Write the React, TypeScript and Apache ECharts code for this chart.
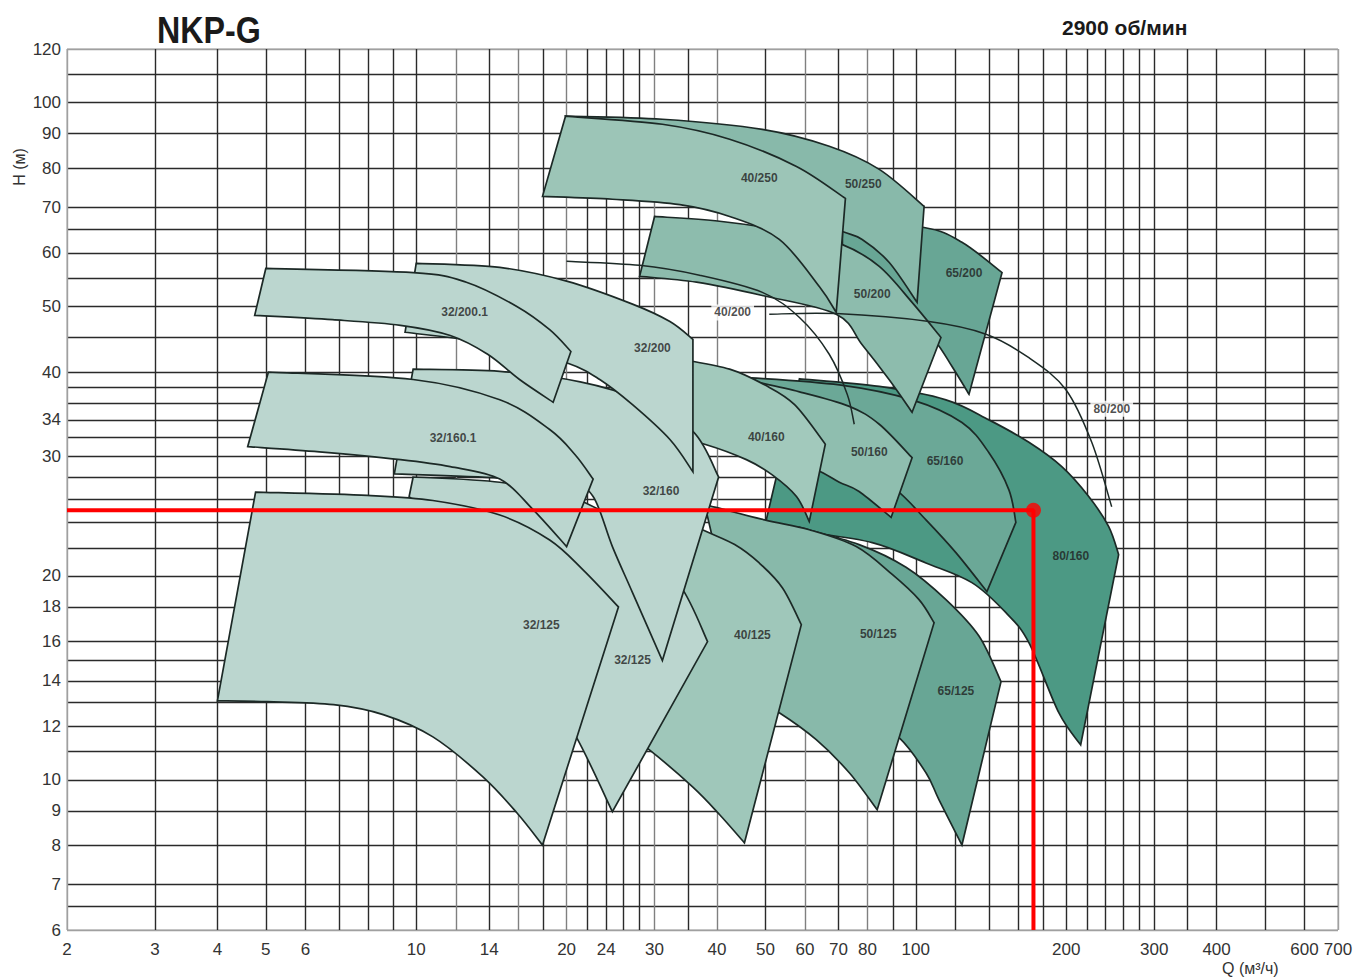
import React, { useEffect, useRef } from "react";
import * as echarts from "echarts";

// ---------- axes ----------
const Q_MIN = 2;
const Q_MAX = 700;
const H_MIN = 6;
const H_MAX = 120;
const qGridLines = [2, 3, 4, 5, 6, 7, 8, 9, 10, 12, 14, 16, 18, 20, 22, 24, 26, 28, 30, 35, 40, 50, 60, 70, 80, 90, 100, 120, 140, 160, 180, 200, 220, 240, 260, 280, 300, 350, 400, 500, 600, 700];
const qFaintLines = [12, 16, 20, 30, 40, 60, 80];
const qTickLabels = [2, 3, 4, 5, 6, 10, 14, 20, 24, 30, 40, 50, 60, 70, 80, 100, 200, 300, 400, 600, 700];
const hGridLines = [6, 6.5, 7, 8, 9, 10, 11, 12, 13, 14, 15, 16, 18, 20, 22, 24, 26, 28, 30, 32, 34, 36, 38, 40, 45, 50, 55, 60, 65, 70, 80, 90, 100, 110, 120];
const hTickLabels = [6, 7, 8, 9, 10, 12, 14, 16, 18, 20, 30, 34, 40, 50, 60, 70, 80, 90, 100, 120];

// ---------- pump fields: [Q m3/h, H m] ----------
const p32_200_1_top = [[5.0, 56.9], [9.86, 56.1], [12.6, 54.3], [15.9, 50.0], [18.5, 46.2], [20.4, 42.9]];
const p32_200_1_bottom = [[18.8, 36.1], [16.1, 39.0], [13.9, 42.5], [11.7, 45.3], [9.3, 46.9], [6.8, 47.8], [4.75, 48.5]];
const p32_200_top = [[10.0, 57.9], [14.7, 57.1], [20.0, 54.5], [27.1, 50.4], [32.2, 47.5], [35.8, 44.7]];
const p32_200_bottom = [[35.8, 28.5], [32.2, 31.8], [27.1, 35.8], [23.3, 39.0], [20.0, 41.3], [14.7, 43.9], [9.5, 45.8]];
const p32_160_1_top = [[5.06, 40.0], [9.86, 39.0], [14.7, 36.4], [18.5, 32.9], [20.8, 30.2], [22.6, 27.8]];
const p32_160_1_bottom = [[20.0, 22.1], [17.1, 25.1], [14.7, 27.8], [11.7, 29.0], [9.3, 29.7], [6.4, 30.5], [4.6, 31.05]];
const p32_160_top = [[9.86, 40.4], [14.7, 40.1], [21.3, 38.7], [28.0, 36.4], [35.8, 32.7], [40.3, 28.0]];
const p32_160_bottom = [[31.1, 15.0], [27.1, 18.9], [24.7, 22.1], [22.6, 26.2], [20.3, 27.3], [14.7, 27.9], [9.04, 28.3]];
const p32_125b_top = [[9.86, 28.0], [14.7, 27.5], [20.3, 26.2], [26.8, 23.4], [33.7, 19.4], [38.3, 16.0]];
const p32_125b_bottom = [[24.7, 8.97], [21.0, 11.5], [17.7, 14.05], [13.4, 19.1], [10.7, 24.2], [9.68, 26.2]];
const p32_125a_top = [[4.77, 26.6], [7.98, 26.3], [10.8, 25.85], [14.7, 24.6], [18.5, 22.6], [21.6, 20.4], [25.4, 18.0]];
const p32_125a_bottom = [[17.9, 8.01], [15.9, 8.94], [13.6, 10.1], [10.8, 11.57], [8.59, 12.48], [6.83, 12.91], [5.04, 13.04], [4.0, 13.08]];
const p40_125_top = [[28.0, 25.8], [37.4, 23.4], [43.4, 22.25], [48.6, 20.9], [54.1, 19.2], [59.0, 16.95]];
const p40_125_bottom = [[45.4, 8.07], [40.5, 8.88], [35.75, 9.76], [29.3, 11.07], [26.15, 11.73]];
const p50_125_top = [[37.8, 25.5], [49.8, 24.2], [61.2, 23.4], [76.0, 22.1], [89.7, 20.1], [101.5, 18.45], [108.8, 17.06]];
const p50_125_bottom = [[83.7, 9.03], [73.6, 10.24], [63.2, 11.46], [53.3, 12.56], [46.45, 13.26]];
const p65_125_top = [[58.5, 23.6], [77.0, 22.25], [95.6, 20.6], [114.9, 18.45], [133.8, 16.3], [148.1, 13.96]];
const p65_125_bottom = [[123.7, 8.01], [111.3, 9.34], [104.8, 10.24], [92.6, 11.54], [77.0, 12.7]];
const p80_160_top = [[58.5, 39.1], [84.5, 38.1], [114.9, 36.4], [140.1, 34.0], [168.4, 31.5], [196.0, 29.0], [221.9, 26.2], [243.3, 23.65], [254.7, 21.5]];
const p80_160_bottom = [[213.8, 11.26], [193.3, 12.56], [168.4, 15.94], [151.5, 17.65], [129.5, 19.55], [104.8, 20.9], [81.8, 22.4], [60.4, 23.2], [49.8, 23.6]];
const p65_160_top = [[45.4, 39.3], [70.3, 38.3], [98.3, 36.4], [123.7, 33.7], [140.1, 30.4], [153.6, 26.8], [158.6, 24.0]];
const p65_160_bottom = [[138.8, 18.96], [120.3, 21.65], [104.8, 24.2], [91.3, 26.8], [77.0, 28.7], [58.5, 30.7]];
const p50_160_top = [[43.4, 39.3], [58.5, 37.4], [73.6, 35.6], [84.5, 33.5], [98.3, 29.9]];
const p50_160_bottom = [[89.25, 24.4], [77.0, 26.65], [70.3, 27.5], [63.2, 28.7], [53.3, 29.9]];
const p40_160_top = [[34.5, 41.7], [42.4, 40.4], [49.8, 38.3], [57.2, 35.8], [65.9, 31.3]];
const p40_160_bottom = [[61.2, 24.06], [57.7, 26.2], [51.6, 28.2], [45.8, 29.7], [37.8, 31.3], [33.7, 31.8]];
const p40_250_top = [[19.9, 95.5], [31.1, 92.9], [42.4, 88.3], [57.7, 80.5], [72.3, 72.2]];
const p40_250_bottom = [[69.3, 49.0], [64.1, 53.5], [53.3, 62.8], [42.4, 67.9], [33.7, 70.7], [24.7, 72.0], [17.9, 72.7]];
const p50_250_top = [[19.9, 95.5], [31.1, 94.5], [49.3, 91.3], [67.1, 86.2], [84.5, 79.7], [103.9, 70.3]];
const p50_250_bottom = [[100.6, 50.7], [88.4, 58.1], [78.1, 62.8], [71.3, 64.5], [58.5, 68.4], [36.9, 72.0], [23.3, 74.5]];
const p65_200_top = [[71.3, 66.8], [103.9, 65.4], [123.7, 62.2], [148.8, 56.1]];
const p65_200_bottom = [[127.8, 37.1], [118.1, 40.8], [108.8, 44.7], [92.6, 51.2], [77.0, 57.7], [71.3, 61.7]];
const p50_200_top = [[30.0, 67.9], [40.5, 66.8], [55.9, 64.5], [71.3, 61.7], [84.5, 57.3], [98.3, 50.7], [112.3, 45.0]];
const p50_200_bottom = [[98.3, 34.9], [88.4, 39.0], [78.1, 43.9], [69.3, 48.7], [49.3, 51.9], [36.4, 54.3], [28.0, 55.4]];

// open curves
const curve40_200 = [[20.0, 58.3], [28.0, 57.5], [36.9, 55.6], [49.3, 52.45], [58.5, 48.15], [67.1, 42.5], [72.9, 37.1], [75.3, 33.5]];
const curve80_200 = [[50.9, 48.7], [69.3, 48.8], [106.3, 47.5], [138.2, 45.5], [168.4, 42.0], [199.6, 37.7], [225.0, 31.5], [246.7, 25.3]];

// labels: [text, Q, H, boxed]
const fieldLabels: [string, number, number, boolean][] = [
  ["40/250", 48.6, 77.5, false],
  ["50/250", 78.5, 75.7, false],
  ["65/200", 124.9, 56.1, false],
  ["50/200", 81.8, 52.1, false],
  ["40/200", 43.0, 49.0, true],
  ["32/200.1", 12.5, 49.0, false],
  ["32/200", 29.7, 43.4, false],
  ["80/200", 246.7, 35.3, true],
  ["40/160", 50.2, 32.1, false],
  ["32/160.1", 11.85, 32.0, false],
  ["50/160", 80.7, 30.5, false],
  ["65/160", 114.4, 29.6, false],
  ["32/160", 30.9, 26.7, false],
  ["80/160", 204.3, 21.4, false],
  ["32/125", 17.8, 16.95, false],
  ["50/125", 84.1, 16.44, false],
  ["40/125", 47.1, 16.38, false],
  ["32/125", 27.1, 15.04, false],
  ["65/125", 120.3, 13.54, false],
];

const dutyPoint = [172, 25];

type Field = { top: number[][]; bottom: number[][]; fill: string };

const C32 = "#bbd6cf";
const C40 = "#9fc7ba";
const C50 = "#88b9aa";
const C65 = "#68a695";
const C80 = "#4c9984";

// back to front
const fields: Field[] = [
  { top: p80_160_top, bottom: p80_160_bottom, fill: C80 },
  { top: p65_200_top, bottom: p65_200_bottom, fill: C65 },
  { top: p65_160_top, bottom: p65_160_bottom, fill: "#6ba897" },
  { top: p65_125_top, bottom: p65_125_bottom, fill: C65 },
  { top: p50_250_top, bottom: p50_250_bottom, fill: C50 },
  { top: p50_200_top, bottom: p50_200_bottom, fill: "#8dbcad" },
  { top: p50_160_top, bottom: p50_160_bottom, fill: "#8fbeaf" },
  { top: p50_125_top, bottom: p50_125_bottom, fill: C50 },
  { top: p40_250_top, bottom: p40_250_bottom, fill: "#9cc5b7" },
  { top: p40_160_top, bottom: p40_160_bottom, fill: "#a2c9bc" },
  { top: p40_125_top, bottom: p40_125_bottom, fill: C40 },
  { top: p32_125b_top, bottom: p32_125b_bottom, fill: C32 },
  { top: p32_160_top, bottom: p32_160_bottom, fill: C32 },
  { top: p32_200_top, bottom: p32_200_bottom, fill: C32 },
  { top: p32_200_1_top, bottom: p32_200_1_bottom, fill: C32 },
  { top: p32_160_1_top, bottom: p32_160_1_bottom, fill: C32 },
  { top: p32_125a_top, bottom: p32_125a_bottom, fill: C32 },
];

const STROKE = "#1c2926";

function splineSegs(pts: number[][]): string {
  let d = "";
  for (let i = 0; i < pts.length - 1; i++) {
    const p0 = pts[i - 1] || pts[i];
    const p1 = pts[i];
    const p2 = pts[i + 1];
    const p3 = pts[i + 2] || p2;
    const c1x = p1[0] + (p2[0] - p0[0]) / 6;
    const c1y = p1[1] + (p2[1] - p0[1]) / 6;
    const c2x = p2[0] - (p3[0] - p1[0]) / 6;
    const c2y = p2[1] - (p3[1] - p1[1]) / 6;
    d += ` C ${c1x.toFixed(2)} ${c1y.toFixed(2)} ${c2x.toFixed(2)} ${c2y.toFixed(2)} ${p2[0].toFixed(2)} ${p2[1].toFixed(2)}`;
  }
  return d;
}

function fieldSeries(f: Field, idx: number) {
  return {
    type: "custom",
    coordinateSystem: "cartesian2d",
    silent: true,
    z: 2,
    data: [f.top[0]],
    renderItem: (_params: any, api: any) => {
      const t = f.top.map((p) => api.coord(p));
      const b = f.bottom.map((p) => api.coord(p));
      const d =
        `M ${t[0][0].toFixed(2)} ${t[0][1].toFixed(2)}` +
        splineSegs(t) +
        ` L ${b[0][0].toFixed(2)} ${b[0][1].toFixed(2)}` +
        splineSegs(b) +
        " Z";
      return {
        type: "path",
        shape: { pathData: d },
        style: { fill: f.fill, stroke: STROKE, lineWidth: 1.7, lineJoin: "miter" },
      };
    },
    name: "field" + idx,
  };
}

function curveSeries(c: number[][]) {
  return {
    type: "custom",
    coordinateSystem: "cartesian2d",
    silent: true,
    z: 4,
    data: [c[0]],
    renderItem: (_params: any, api: any) => {
      const t = c.map((p) => api.coord(p));
      const d = `M ${t[0][0].toFixed(2)} ${t[0][1].toFixed(2)}` + splineSegs(t);
      return {
        type: "path",
        shape: { pathData: d },
        style: { fill: "none", stroke: STROKE, lineWidth: 1.5 },
      };
    },
  };
}

const qLineColors = qGridLines.map((v) =>
  v === Q_MIN || v === Q_MAX ? "#a0a0a0" : qFaintLines.includes(v) ? "#808080" : "#2a2a2a"
);
const hLineColors = hGridLines.map((v) => (v === H_MIN || v === H_MAX ? "#a0a0a0" : "#2a2a2a"));

const FONT = '"Liberation Sans", Arial, sans-serif';

export default function App() {
  const ref = useRef<HTMLDivElement>(null);
  useEffect(() => {
    if (!ref.current) return;
    const chart = echarts.init(ref.current, undefined, { renderer: "svg" });
    const option: any = {
      animation: false,
      backgroundColor: "#ffffff",
      grid: { left: 67, right: 32, top: 49, bottom: 49, show: true, borderColor: "#a0a0a0", borderWidth: 1 },
      xAxis: {
        type: "log",
        logBase: 10,
        min: Q_MIN,
        max: Q_MAX,
        axisLine: { show: false },
        axisTick: { show: false, customValues: qGridLines },
        minorTick: { show: false },
        splitLine: { show: true, lineStyle: { color: qLineColors, width: 1.4 } },
        axisLabel: {
          customValues: qTickLabels,
          formatter: (v: number) => String(Math.round(v)),
          color: "#333",
          fontSize: 17,
          fontFamily: FONT,
          margin: 11,
        },
      },
      yAxis: {
        type: "log",
        logBase: 10,
        min: H_MIN,
        max: H_MAX,
        axisLine: { show: false },
        axisTick: { show: false, customValues: hGridLines },
        minorTick: { show: false },
        splitLine: { show: true, lineStyle: { color: hLineColors, width: 1.4 } },
        axisLabel: {
          customValues: hTickLabels,
          formatter: (v: number) => String(Math.round(v)),
          color: "#333",
          fontSize: 17,
          fontFamily: FONT,
          margin: 6,
        },
      },
      graphic: [
        {
          type: "text",
          x: 157,
          y: 30,
          scaleX: 0.87,
          style: { text: "NKP-G", font: `bold 37px ${FONT}`, fill: "#1a1a1a", verticalAlign: "middle" },
        },
        {
          type: "text",
          x: 1062,
          y: 27,
          style: { text: "2900 об/мин", font: `bold 21px ${FONT}`, fill: "#1a1a1a", verticalAlign: "middle" },
        },
        {
          type: "text",
          x: 19,
          y: 167,
          rotation: Math.PI / 2,
          style: { text: "H (м)", font: `16px ${FONT}`, fill: "#333", align: "center", verticalAlign: "middle" },
        },
        {
          type: "text",
          x: 1222,
          y: 968,
          style: { text: "Q (м³/ч)", font: `16px ${FONT}`, fill: "#333", verticalAlign: "middle" },
        },
      ],
      series: [
        ...fields.map((f, i) => fieldSeries(f, i)),
        curveSeries(curve40_200),
        curveSeries(curve80_200),
        {
          type: "line",
          z: 8,
          silent: true,
          showSymbol: false,
          symbol: "none",
          data: [[Q_MIN, dutyPoint[1]], dutyPoint, [dutyPoint[0], H_MIN]],
          lineStyle: { color: "#ff0000", width: 4 },
        },
        {
          type: "scatter",
          z: 9,
          silent: true,
          symbolSize: 15,
          data: [dutyPoint],
          itemStyle: { color: "#ff0000" },
        },
        {
          type: "scatter",
          z: 10,
          silent: true,
          symbolSize: 0,
          data: fieldLabels.map(([name, q, h, boxed]) => ({
            name,
            value: [q, h],
            label: boxed ? { backgroundColor: "#ffffff", padding: [2, 3] } : undefined,
          })),
          label: {
            show: true,
            position: "inside",
            formatter: "{b}",
            color: "#1f1f1f",
            fontSize: 12,
            fontWeight: "bold",
            fontFamily: FONT,
          },
        },
      ],
    };
    chart.setOption(option);
    return () => chart.dispose();
  }, []);
  return (
    <div
      ref={ref}
      style={{ position: "absolute", left: 0, top: 0, width: 1370, height: 979, background: "#fff" }}
    />
  );
}
